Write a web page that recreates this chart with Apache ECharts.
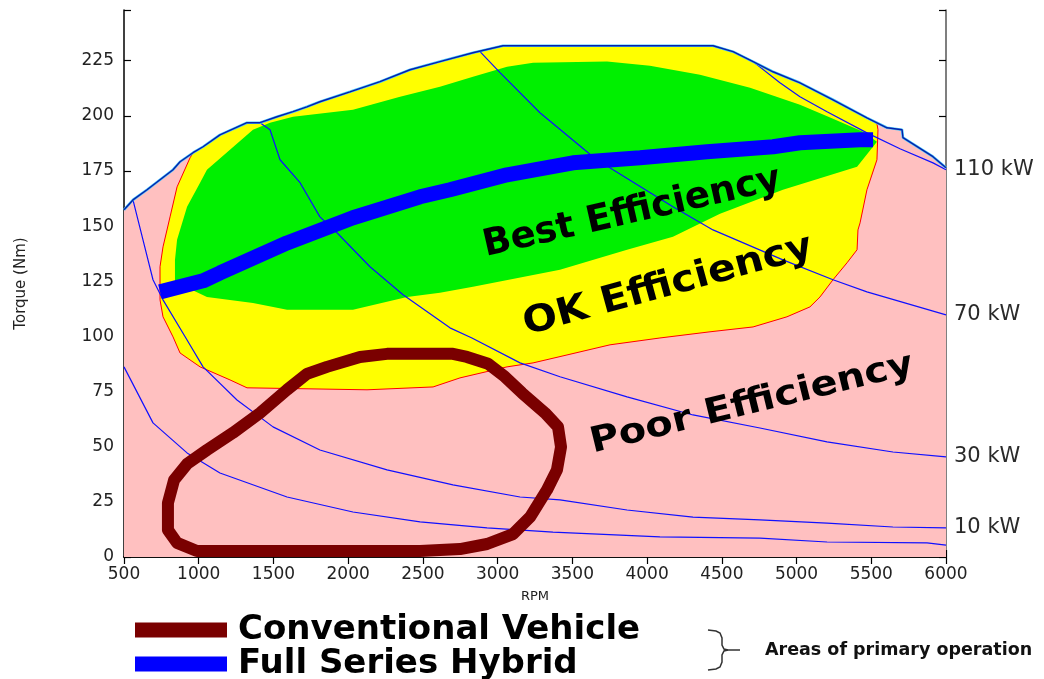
<!DOCTYPE html>
<html>
<head>
<meta charset="utf-8">
<title>Engine efficiency map</title>
<script src="https://cdn.jsdelivr.net/npm/echarts@6/dist/echarts.min.js"></script>
<style>
  html, body { margin: 0; padding: 0; background: #fff; }
  #chart { width: 1044px; height: 679px; }
</style>
</head>
<body>
<div id="chart"></div>
<script>
// values, [rpm, torque Nm]
const maxTorque = [[500,157.4],[560,161.9],[654,166.5],[828,175.6],[875,179.2],[962,183.3],[1029,186.0],[1142,191.4],[1323,196.9],[1410,196.9],[1524,199.6],[1631,201.9],[1724,204.1],[1811,206.4],[2012,210.9],[2213,215.5],[2414,220.9],[2614,224.6],[2835,228.6],[3036,231.8],[4441,231.8],[4575,229.1],[4709,224.6],[4842,220.0],[5023,215.0],[5244,207.3],[5471,199.1],[5605,194.6],[5706,193.7],[5712,190.1],[5913,181.5],[6000,176.5]];

// lower edge of the "OK" zone (red line), top of it follows maxTorque
const okEdge = [[942,181.0],[855,167.8],[808,154.2],[761,140.6],[741,131.6],[741,116.6],[761,108.9],[828,99.8],[875,92.5],[1009,86.2],[1209,80.3],[1323,76.7],[2126,75.8],[2568,77.1],[2748,81.2],[3063,86.2],[3237,88.0],[3464,91.6],[3752,96.2],[4086,99.3],[4421,102.1],[4709,104.3],[4936,108.9],[5090,113.4],[5157,117.9],[5244,125.7],[5338,133.4],[5405,139.3],[5411,148.3],[5425,151.5],[5471,166.5],[5538,180.1],[5545,193.7],[5538,196.5]];

const bestZone = [[841,124.8],[841,134.7],[855,143.8],[922,158.8],[1009,169.7],[1055,175.6],[1209,184.6],[1363,193.7],[1477,196.9],[1631,199.6],[2032,202.8],[2347,208.7],[2614,213.2],[2835,217.7],[3063,222.3],[3237,224.1],[3732,224.6],[4019,222.7],[4354,218.7],[4689,212.8],[5023,205.0],[5244,198.7],[5445,192.8],[5538,188.3],[5405,176.9],[4909,166.5],[4488,155.6],[4173,145.2],[3866,139.3],[3417,130.2],[2835,122.5],[2614,119.8],[2394,117.9],[2032,112.1],[1591,112.1],[1363,115.2],[1055,117.9]];

const hybridPath = [[741,120.2],[1029,125.2],[1142,128.8],[1591,142.4],[2032,153.8],[2481,163.3],[2681,166.5],[3063,173.3],[3504,178.7],[3953,181.0],[4401,183.7],[4843,186.0],[5023,187.8],[5425,189.2],[5512,189.2]];

const conventionalLoop = [[988,2.7],[1678,2.7],[2481,2.7],[2748,3.6],[2929,5.9],[3103,10.4],[3217,18.1],[3330,30.4],[3397,39.5],[3424,49.9],[3404,59.0],[3317,65.3],[3163,74.4],[3049,81.7],[2936,87.6],[2795,90.7],[2701,92.1],[2260,92.1],[2079,90.7],[1858,86.2],[1724,83.0],[1591,75.8],[1410,65.3],[1229,56.3],[1055,48.5],[922,42.2],[835,34.9],[794,24.5],[794,12.2],[855,6.4],[988,2.7]];

// constant power lines
const kw110 = [[4560,229.5],[4709,224.6],[4889,215.0],[5023,208.7],[5204,201.9],[5471,192.3],[5692,185.1],[5913,178.7],[6000,175.6]];
const kw70 = [[2882,229.1],[3016,219.6],[3283,201.4],[3638,181.5],[3772,175.6],[4173,158.8],[4441,148.3],[4909,134.7],[5244,125.7],[5471,120.2],[6000,109.8]];
const kw30 = [[1410,196.9],[1477,193.7],[1544,180.1],[1678,169.7],[1811,154.2],[1925,147.0],[2146,131.6],[2367,118.9],[2681,103.9],[2828,99.3],[3150,88.0],[3417,81.7],[3866,72.6],[4307,64.4],[4755,58.5],[5204,52.2],[5645,47.6],[6000,45.4]];
const kw10 = [[560,161.9],[627,143.8],[694,125.7],[761,116.6],[922,98.4],[1029,86.2],[1256,71.2],[1497,59.0],[1811,48.5],[2260,39.5],[2701,32.7],[3150,27.2],[3417,25.9],[3866,21.3],[4307,18.1],[4755,16.8],[5204,15.4],[5645,13.6],[6000,13.2]];
const kw5 = [[500,86.2],[694,60.8],[922,47.2],[1142,38.1],[1591,27.2],[2032,20.4],[2481,15.9],[2929,13.2],[3370,11.3],[4086,9.1],[4755,8.6],[5204,6.8],[5873,6.4],[6000,5.4]];

const kwLabels = ['110 kW', '70 kW', '30 kW', '10 kW'];
const zoneLabels = ['Best Efficiency', 'OK Efficiency', 'Poor Efficiency'];
const legendNames = ['Conventional Vehicle', 'Full Series Hybrid'];

// 区域多边形
const poorPoly = maxTorque.concat([[6000, 0], [500, 0]]);
const okPoly = okEdge.concat(
  maxTorque.filter(p => p[0] > okEdge[0][0] && p[0] < okEdge[okEdge.length - 1][0]).reverse()
);

function zone(points, fill, stroke, z) {
  return {
    type: 'custom', silent: true, z: z, clip: true,
    data: [points[0]],
    renderItem: function (params, api) {
      return {
        type: 'polygon',
        shape: { points: points.map(p => api.coord(p)) },
        style: { fill: fill, stroke: stroke || null, lineWidth: 1 }
      };
    }
  };
}

function powerLine(points, label, z) {
  return {
    type: 'line', data: points, showSymbol: false, silent: true, z: z,
    lineStyle: { color: '#1010ff', width: 1.2 },
    endLabel: label ? {
      show: true, formatter: label, distance: 8,
      color: '#2a2a2a', fontFamily: 'DejaVu Sans', fontSize: 21
    } : { show: false }
  };
}

const axisLine = { show: true, lineStyle: { color: '#000', width: 1.5 } };
const tick = { show: true, inside: true, length: 7, lineStyle: { color: '#000', width: 1.2 } };
const labelFont = { fontFamily: 'DejaVu Sans', fontSize: 17, color: '#222' };
const centred = { align: 'center', verticalAlign: 'middle', textAlign: 'center', textVerticalAlign: 'middle' };

const chart = echarts.init(document.getElementById('chart'));
chart.setOption({
  animation: false,
  backgroundColor: '#fff',
  grid: { left: 124, right: 98, top: 10, bottom: 122 },
  xAxis: [
    { type: 'value', position: 'bottom', min: 500, max: 6000, interval: 500,
      name: 'RPM', nameLocation: 'middle', nameGap: 33,
      nameTextStyle: { fontFamily: 'DejaVu Sans', fontSize: 13, color: '#222' },
      axisLine: axisLine, axisTick: tick, splitLine: { show: false },
      axisLabel: Object.assign({ margin: 9, formatter: v => String(v) }, labelFont) },
    { type: 'value', position: 'top', min: 500, max: 6000, interval: 500,
      axisLine: axisLine, axisTick: tick, splitLine: { show: false }, axisLabel: { show: false } }
  ],
  yAxis: [
    { type: 'value', position: 'left', min: 0, max: 248, interval: 25,
      name: 'Torque (Nm)', nameLocation: 'middle', nameGap: 95, nameRotate: 90,
      nameTextStyle: { fontFamily: 'DejaVu Sans', fontSize: 15, color: '#222' },
      axisLine: axisLine, axisTick: tick, splitLine: { show: false },
      axisLabel: Object.assign({ margin: 10, formatter: v => (v % 25 === 0 ? String(v) : '') }, labelFont) },
    { type: 'value', position: 'right', min: 0, max: 248, interval: 25,
      axisLine: { show: true, lineStyle: { color: '#555', width: 1.5 } },
      axisTick: tick, splitLine: { show: false }, axisLabel: { show: false } }
  ],
  legend: {
    data: legendNames.map(n => ({ name: n, icon: 'rect' })),
    orient: 'vertical', left: 135, top: 613, width: 600, height: 120, padding: 0, itemGap: 0,
    itemWidth: 92, itemHeight: 15, selectedMode: false,
    itemStyle: { borderWidth: 0 },
    textStyle: { fontFamily: 'DejaVu Sans', fontWeight: 'bold', fontSize: 34, color: '#000',
      lineHeight: 33, padding: [0, 0, 0, 6] }
  },
  series: [
    zone(poorPoly, '#ffc0c0', null, 1),
    zone(okPoly, '#ffff00', '#ff0000', 2),
    zone(bestZone, '#00f000', null, 3),
    powerLine(kw5, null, 4),
    powerLine(kw10, kwLabels[3], 4),
    powerLine(kw30, kwLabels[2], 4),
    powerLine(kw70, kwLabels[1], 4),
    powerLine(kw110, kwLabels[0], 4),
    { type: 'line', data: maxTorque, showSymbol: false, silent: true, z: 5,
      lineStyle: { color: '#40c8ff', width: 2.6 } },
    { type: 'line', data: maxTorque, showSymbol: false, silent: true, z: 6,
      lineStyle: { color: '#0a1ea8', width: 1.4 } },
    { name: legendNames[1], type: 'line', data: hybridPath, showSymbol: false, silent: true, z: 7,
      color: '#0000ff', itemStyle: { color: '#0000ff' },
      lineStyle: { color: '#0000ff', width: 15, cap: 'butt' } },
    { name: legendNames[0], type: 'line', data: conventionalLoop, showSymbol: false, silent: true, z: 8,
      color: '#7a0000', itemStyle: { color: '#7a0000' },
      lineStyle: { color: '#7a0000', width: 12, cap: 'round', join: 'round' } }
  ],
  graphic: [
    { type: 'text', x: 632, y: 213, rotation: 12.8 * Math.PI / 180, z: 100,
      style: Object.assign({ text: zoneLabels[0], font: 'bold 37px "DejaVu Sans"', fill: '#000' }, centred) },
    { type: 'text', x: 668, y: 286, rotation: 15.3 * Math.PI / 180, scaleX: 1.1, z: 100,
      style: Object.assign({ text: zoneLabels[1], font: 'bold 37px "DejaVu Sans"', fill: '#000' }, centred) },
    { type: 'text', x: 752, y: 404, rotation: 13.8 * Math.PI / 180, scaleX: 1.14, z: 100,
      style: Object.assign({ text: zoneLabels[2], font: 'bold 35px "DejaVu Sans"', fill: '#000' }, centred) },
    // brace
    { type: 'polyline', z: 100,
      shape: { points: [[708,630],[716,631],[720,633],[722,638],[722,645],[724,649],[728,650],[740,650]] },
      style: { fill: null, stroke: '#333', lineWidth: 1.5 } },
    { type: 'polyline', z: 100,
      shape: { points: [[728,650],[724,651],[722,655],[722,662],[720,667],[716,669],[708,670]] },
      style: { fill: null, stroke: '#333', lineWidth: 1.5 } },
    { type: 'text', x: 765, y: 650, z: 100,
      style: { text: 'Areas of primary operation', font: 'bold 17.5px "DejaVu Sans"', fill: '#111',
        align: 'left', verticalAlign: 'middle', textAlign: 'left', textVerticalAlign: 'middle' } }
  ]
});
</script>
</body>
</html>
